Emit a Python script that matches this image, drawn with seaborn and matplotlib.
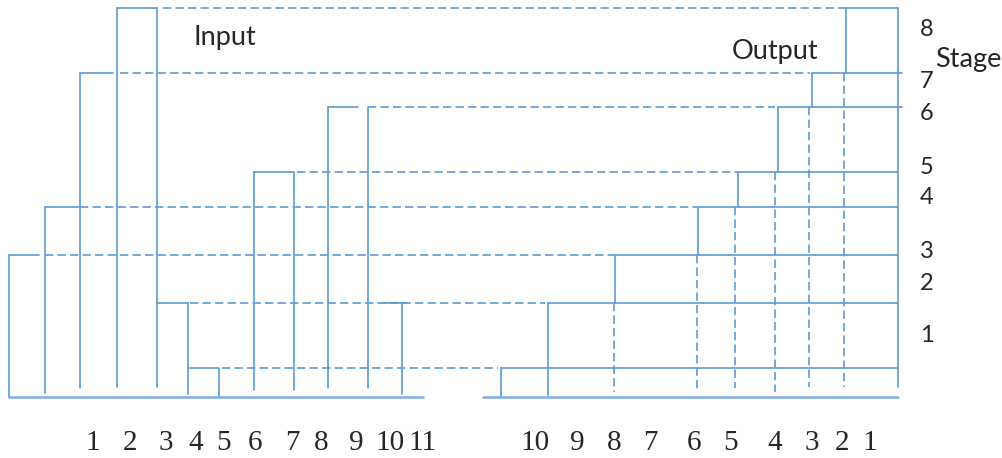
import seaborn as sns
import matplotlib.pyplot as plt
import pandas as pd
import numpy as np

# stage levels (drawing units, y grows downward), stage 1 .. 8
stage_y = [368, 303, 255, 207, 172, 107, 73, 8]
base_y = 397

# input side: vertical lines (x, top stage, bottom end)
in_x = [9, 45, 80, 117, 157, 188, 219, 254, 294, 328, 368, 402]
in_top = [3, 4, 7, 8, 8, 2, 1, 5, 5, 6, 6, 2]
in_bottom = [397, 393, 388, 387, 387, 394, 397, 390, 390, 388, 388, 394]

# input side: solid caps (x0, x1, stage)
in_caps = [(9, 39, 3), (45, 80, 4), (80, 113, 7), (117, 157, 8), (157, 188, 2),
           (188, 218, 1), (254, 293, 5), (328, 358, 6), (383, 407, 2)]

# dashed links from input to output, stage 1 .. 8 (start x, end x)
link_start = [222, 190, 45, 80, 297, 368, 120, 163]
link_end = [498, 545, 614, 697, 737, 775, 810, 845]

# output side: vertical per stage 1 .. 8
out_x = [501, 548, 615, 698, 738, 778, 812, 846]
out_solid_end = [397, 395, 303, 255, 207, 172, 107, 73]
out_dash_x = [None, None, 614, 697, 735, 775, 809, 844]
out_dash_end = [None, None, 392, 392, 388, 392, 387, 387]
out_right = [898, 898, 898, 898, 898, 902, 902, 898]
right_x = 898

in_labels = ['1', '2', '3', '4', '5', '6', '7', '8', '9', '10', '11']
in_label_x = [93, 130, 166, 196, 224, 255, 292, 321, 356, 390, 423]
out_labels = ['10', '9', '8', '7', '6', '5', '4', '3', '2', '1']
out_label_x = [535, 577, 614, 650, 694, 731, 775, 812, 842, 870]
stage_labels = ['1', '2', '3', '4', '5', '6', '7', '8']
stage_label_y = [335, 283, 252, 198, 167, 113, 81, 29]

# build segments table
rows = []
def seg(x0, y0, x1, y1, kind):
    n = len(rows) // 2
    rows.append({'seg': n, 'x': x0, 'y': y0, 'kind': kind})
    rows.append({'seg': n, 'x': x1, 'y': y1, 'kind': kind})

for x, t, b in zip(in_x, in_top, in_bottom):
    seg(x, stage_y[t - 1], x, b, 'solid')
for x0, x1, s in in_caps:
    seg(x0, stage_y[s - 1], x1, stage_y[s - 1], 'solid')
for i in range(8):
    y = stage_y[i]
    seg(link_start[i], y, link_end[i], y, 'dashed')
    seg(out_x[i], y, out_right[i], y, 'solid')
    seg(out_x[i], y, out_x[i], out_solid_end[i], 'solid')
    if out_dash_end[i] is not None:
        seg(out_dash_x[i], out_solid_end[i], out_dash_x[i], out_dash_end[i], 'dashed')
seg(right_x, stage_y[7], right_x, 387, 'solid')
df = pd.DataFrame(rows)

sns.set_style('white')
fig = plt.figure(figsize=(10.03, 4.58), dpi=100)
ax = fig.add_axes([0, 0, 1, 1])
blue = '#5b9bd5'

sns.lineplot(data=df, x='x', y='y', units='seg', style='kind', estimator=None, sort=False,
             dashes={'solid': '', 'dashed': (5, 2.5)}, color=blue, linewidth=1.2,
             legend=False, ax=ax)

# baselines
base = pd.DataFrame({'x': [9, 423, 483, right_x], 'y': [base_y] * 4, 'part': ['in', 'in', 'out', 'out']})
sns.lineplot(data=base, x='x', y='y', units='part', estimator=None, sort=False,
             color='#7faee0', linewidth=1.8, legend=False, ax=ax)

for lab, x in zip(in_labels + out_labels, in_label_x + out_label_x):
    ax.text(x, 443, lab, ha='center', va='center', fontsize=21, family='Liberation Serif')
for lab, y in zip(stage_labels, stage_label_y):
    ax.text(927, y, lab, ha='center', va='center', fontsize=17, family='Lato')
ax.text(935, 59, 'Stage', ha='left', va='center', fontsize=19.5, family='Lato')
ax.text(194, 38, 'Input', ha='left', va='center', fontsize=19.5, family='Lato')
ax.text(732, 51, 'Output', ha='left', va='center', fontsize=19.5, family='Lato')

ax.set_xlim(0, 1003)
ax.set_ylim(458, 0)
ax.axis('off')
plt.savefig('out.png', dpi=100)
